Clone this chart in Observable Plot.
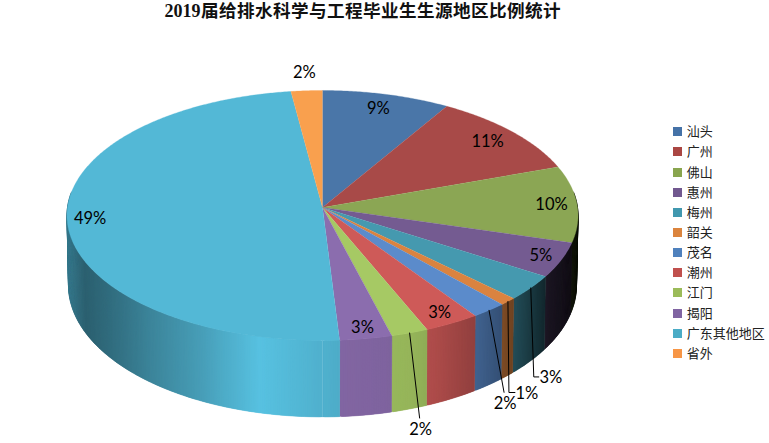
<!DOCTYPE html>
<html><head><meta charset="utf-8">
<script src="https://cdn.jsdelivr.net/npm/d3@7"></script>
<script src="https://cdn.jsdelivr.net/npm/@observablehq/plot@0.6"></script>
<style>
@font-face{font-family:"TitleCJK";src:local("Noto Sans CJK SC Bold"),local("NotoSansCJKsc-Bold");font-weight:bold;ascent-override:80%;descent-override:20%;line-gap-override:0%}
html,body{margin:0;padding:0;background:#fff}
#wrap{position:relative;width:769px;height:443px;overflow:hidden}
#title{position:absolute;left:0;top:1.7px;width:725px;height:18px;line-height:18px;text-align:center;font-family:"TitleCJK","Noto Sans CJK SC";font-weight:bold;font-size:17.6px;color:#111;white-space:nowrap}
#title .n{font-family:"Liberation Serif";font-size:18px}
#legend{position:absolute;left:673px;top:121.3px;font:13px/20.15px "Noto Sans CJK SC";color:#222}
#legend div{height:20.15px;white-space:nowrap;position:relative;padding-left:13.7px}
#legend i{position:absolute;left:0;top:6px;width:9px;height:9px}
</style></head><body><div id="wrap"></div>
<script>
const categories = ["汕头","广州","佛山","惠州","梅州","韶关","茂名","潮州","江门","揭阳","广东其他地区","省外"];
const shares = [8.6,11.0,9.9,4.5,3.3,1.0,2.1,3.3,2.2,3.1,48.9,2.1];
const legendColors = ["#4572A7","#AA4643","#89A54E","#71588F","#4198AF","#DB843D","#4F81BD","#C0504D","#9BBB59","#8064A2","#4BACC6","#F79646"];
const topColors = ["#4A76A8","#A84A48","#8BA654","#745B91","#4599AF","#DA8340","#5B8BCB","#CE5A58","#A6C964","#8B6DAE","#53B8D6","#F9A04E"];

// label placement: radial factor for inside labels, pixel shift from the rim for outside ones
const labelFactor = [.87,.87,.9,.915,null,null,null,.905,null,.92,.91,1.15];
const leaderDrop = {4:[3,89,5,20],5:[1,91,6,18],6:[15,82,0,11],8:[10,85,0,12]};

const k = 0.064, sx = 255, sy = 124.5;
const rim = t => { const u=Math.sin(t), v=Math.cos(t), w=1+k*v; return {a:u/w, b:v/w}; };
const lower = p => ({a:p.a*254/255.5, b:-.558+1.052*p.b});
const shade = d3.scaleLinear()
  .domain([-1,-.98,-.93,-.79,-.67,-.48,-.24,-.05,.07,.34,.46,.6,.72,.79,.89,.99,1])
  .range([.66,.62,.52,.62,.72,.85,1.05,.98,.93,.9,.82,.7,.55,.42,.22,.12,.1]);
const tint = (c,m) => { const r=d3.rgb(c); return d3.rgb(Math.min(255,r.r*m),Math.min(255,r.g*m),Math.min(255,r.b*m)).formatHex(); };

const total = d3.sum(shares);
let cum = 0;
const slices = shares.map((s,i)=>{ const t0=cum/total*2*Math.PI; cum+=s; const t1=cum/total*2*Math.PI; return {i,s,t0,t1,tm:(t0+t1)/2}; });

const step = Math.PI/180;
const topPts = [], sideStrips = [];
for (const sl of slices) {
  topPts.push({id:"t"+sl.i,a:0,b:0,c:topColors[sl.i]});
  const n=Math.max(2,Math.ceil((sl.t1-sl.t0)/(step/2)));
  for(let j=0;j<=n;j++){ const p=rim(sl.t0+(sl.t1-sl.t0)*j/n); topPts.push({id:"t"+sl.i,a:p.a,b:p.b,c:topColors[sl.i]}); }
  const m=Math.max(1,Math.ceil((sl.t1-sl.t0)/(step*.4)));
  const dt=(sl.t1-sl.t0)/m;
  for(let j=0;j<m;j++){
    let ta=sl.t0+dt*j, tb=ta+dt;
    const tc=(ta+tb)/2; if(Math.cos(tc)>0.12) continue;
    const right=tc<Math.PI;
    const sa = right ? Math.max(sl.t0,ta-dt) : ta;
    const sb = right ? tb : Math.min(sl.t1,tb+dt);
    const pa=rim(sa),pb=rim(sb),qa=lower(pa),qb=lower(pb);
    const mid=rim(tc);
    const col=tint(topColors[sl.i],shade(mid.a));
    const order = right ? tc : 2*Math.PI-tc;
    sideStrips.push({order,id:`s${sl.i}_${j}`,pts:[pa,pb,qb,qa,pa],col});
  }
}
sideStrips.sort((x,y)=>d3.ascending(x.order,y.order));
const sidePts = sideStrips.flatMap(s=>s.pts.map(p=>({id:s.id,a:p.a,b:p.b,c:s.col})));

const pct = s => Math.round(s)+"%";
const inside = slices.filter(s=>labelFactor[s.i]!=null).map(s=>{const p=rim(s.tm),f=labelFactor[s.i];return {a:p.a*f,b:p.b*f,t:pct(s.s)};});
const leaderPts=[], outside=[];
for (const s of slices) {
  const d=leaderDrop[s.i]; if(!d) continue;
  const p=rim(s.tm), a1=p.a+d[0]/sx, b1=p.b-d[1]/sy;
  leaderPts.push({id:s.i,a:p.a,b:p.b},{id:s.i,a:a1,b:b1});
  if(d[2]) leaderPts.push({id:s.i,a:a1+d[2]/sx,b:b1});
  outside.push({a:a1+(d[2]+ (d[2]?12:1))/sx,b:b1-(d[2]?1:d[3])/sy,t:pct(s.s)});
}
const font="Lato";
const chart = Plot.plot({
  width:769,height:443,margin:0,
  x:{domain:[-1,1],range:[322-sx,322+sx],axis:null},
  y:{domain:[1,-1],range:[207-sy,207+sy],axis:null},
  color:{type:"identity"},
  marks:[
    Plot.line(sidePts,{x:"a",y:"b",z:"id",fill:"c",stroke:"c",strokeWidth:.3,curve:"linear"}),
    Plot.line(topPts,{x:"a",y:"b",z:"id",fill:"c",stroke:"c",strokeWidth:.3,curve:"linear"}),
    Plot.line(leaderPts,{x:"a",y:"b",z:"id",stroke:"#000",strokeWidth:1,curve:"linear"}),
    Plot.text(inside,{x:"a",y:"b",text:"t",fontSize:16.5,fontFamily:font,fill:"#000"}),
    Plot.text(outside,{x:"a",y:"b",text:"t",fontSize:16.5,fontFamily:font,fill:"#000"})
  ]
});
const wrap=document.getElementById("wrap");
wrap.appendChild(chart);
const title=document.createElement("div");title.id="title";
title.innerHTML='<span class="n">2019</span>届给排水科学与工程毕业生生源地区比例统计';
wrap.appendChild(title);
const lg=document.createElement("div");lg.id="legend";
categories.forEach((c,i)=>{const d=document.createElement("div");const sw=document.createElement("i");sw.style.background=legendColors[i];d.appendChild(sw);d.appendChild(document.createTextNode(c));lg.appendChild(d);});
wrap.appendChild(lg);
</script></body></html>
